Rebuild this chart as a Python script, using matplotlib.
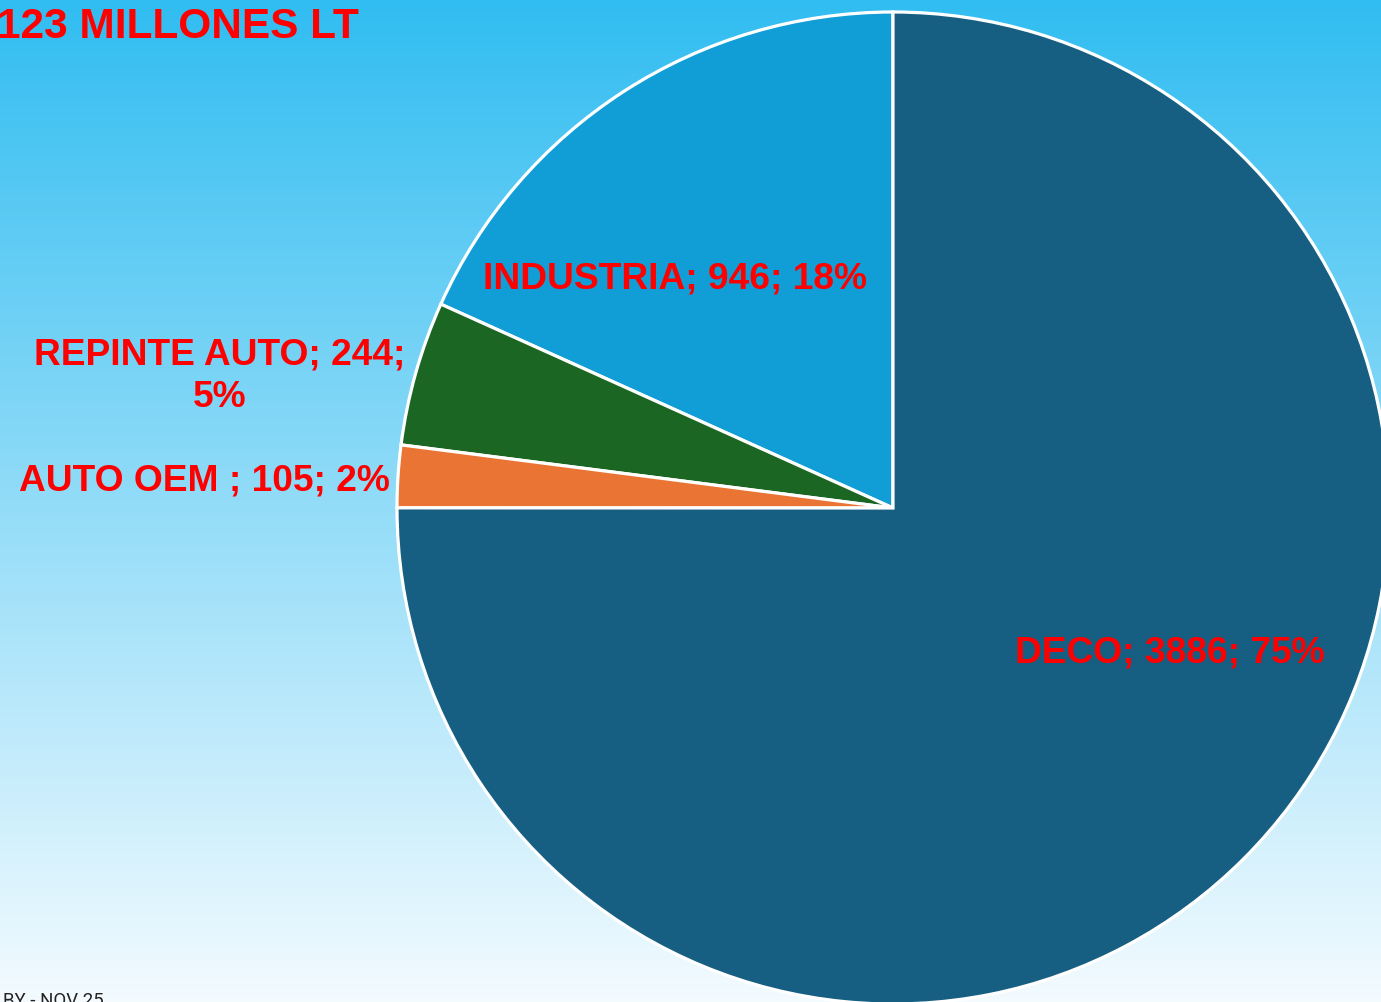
import matplotlib.pyplot as plt
import numpy as np

# datos
categorias = ["INDUSTRIA", "REPINTE AUTO", "AUTO OEM ", "DECO"]
litros = [946, 244, 105, 3886]
porcentajes = [18, 5, 2, 75]
colores = ["#119ED6", "#1B6623", "#EA7434", "#165F82"]
titulo = "123 MILLONES LT"
pie_nota = "BY - NOV 25"

W, H = 1381, 1002
fig = plt.figure(figsize=(W / 100, H / 100), dpi=100)
ax = fig.add_axes([0, 0, 1, 1])

# fondo degradado (arriba celeste, abajo casi blanco)
grad = np.linspace(0, 1, 256).reshape(-1, 1)
top = np.array([0x31, 0xBD, 0xF1]) / 255
bot = np.array([0xF3, 0xFB, 0xFF]) / 255
img = top + (bot - top) * grad[:, :, None]
ax.imshow(img, extent=[0, W, 0, H], origin="upper", aspect="auto", zorder=0)

cx, cy, r = 893, H - 508, 496
ax.pie(litros, colors=colores, startangle=90, counterclock=True,
       center=(cx, cy), radius=r,
       wedgeprops=dict(edgecolor="white", linewidth=2.3))

etiquetas = [f"{c}; {v}; {p}%" for c, v, p in zip(categorias, litros, porcentajes)]
etiquetas[1] = f"{categorias[1]}; {litros[1]};\n{porcentajes[1]}%"
pos = [(675, 279), (220, 376), (204, 481), (1170, 653)]
for t, (x, y) in zip(etiquetas, pos):
    ax.text(x, H - y, t, ha="center", va="center", color="red",
            fontsize=26.7, fontweight="bold", family="Liberation Sans",
            linespacing=1.28)

ax.text(-3, H - 27, titulo, ha="left", va="center", color="red",
        fontsize=30.5, fontweight="bold", family="Liberation Sans")
ax.text(3, H - 1006, pie_nota, ha="left", va="baseline", color="#222222",
        fontsize=13.4, family="Roboto")

ax.set_xlim(0, W)
ax.set_ylim(0, H)
ax.set_aspect("auto")
ax.axis("off")
fig.savefig("out.png", dpi=100)
